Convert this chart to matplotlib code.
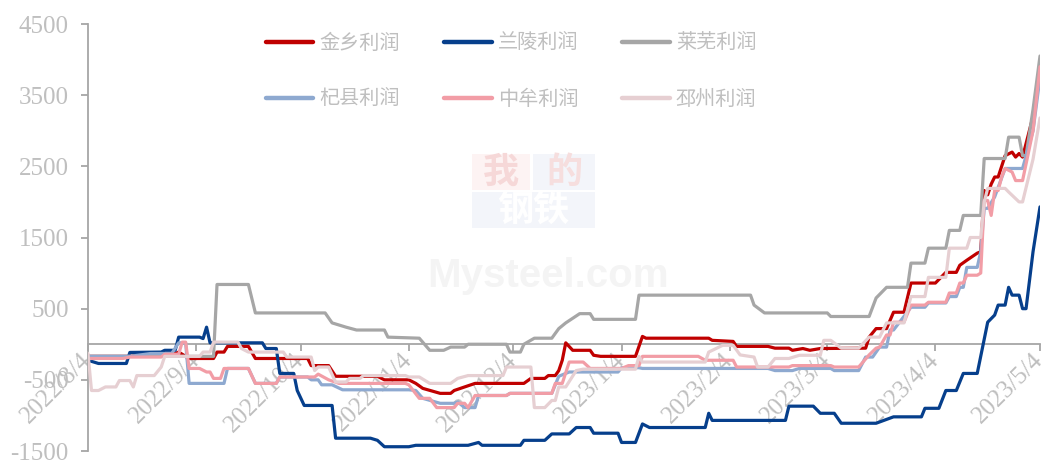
import numpy as np
import pandas as pd
import matplotlib
matplotlib.use('Agg')
import matplotlib.pyplot as plt
from matplotlib.patches import Rectangle

plt.rcParams['font.family'] = ['Liberation Serif', 'Noto Sans CJK SC', 'DejaVu Sans']

# ---- data (date, profit) ----
jinxiang_dates = ['2022/8/4', '2022/8/16', '2022/8/22', '2022/8/29', '2022/8/30', '2022/9/2', '2022/9/9', '2022/9/10',
                  '2022/9/12', '2022/9/13', '2022/9/19', '2022/9/21', '2022/10/6', '2022/10/7', '2022/10/12', '2022/10/14',
                  '2022/10/26', '2022/10/28', '2022/11/4', '2022/11/6', '2022/11/8', '2022/11/13', '2022/11/16', '2022/11/17',
                  '2022/11/20', '2022/11/23', '2022/12/7', '2022/12/9', '2022/12/13', '2022/12/14', '2022/12/16', '2022/12/17',
                  '2022/12/18', '2022/12/19', '2022/12/21', '2022/12/26', '2022/12/27', '2022/12/29', '2023/1/8', '2023/1/10',
                  '2023/1/11', '2023/1/29', '2023/1/30', '2023/2/5', '2023/2/6', '2023/2/15', '2023/2/17', '2023/2/21',
                  '2023/2/22', '2023/2/25', '2023/2/27', '2023/3/2', '2023/3/15', '2023/3/16', '2023/3/18', '2023/3/21',
                  '2023/3/23', '2023/3/26', '2023/3/28', '2023/4/4', '2023/4/7', '2023/4/10', '2023/4/11', '2023/4/13',
                  '2023/4/16', '2023/4/17', '2023/4/18', '2023/4/19', '2023/4/20', '2023/4/21', '2023/4/22', '2023/4/24',
                  '2023/4/26', '2023/4/27', '2023/4/28', '2023/4/29', '2023/5/2', '2023/5/4']
jinxiang_vals = [-170, -170, -130, -130, -110, -200, -200, -110,
                 -110, -30, -30, -200, -200, -300, -300, -450,
                 -450, -500, -500, -550, -620, -690, -690, -650,
                 -600, -550, -550, -480, -480, -440, -440, -370,
                 -225, 20, -85, -85, -155, -170, -170, 110,
                 85, 85, 55, 40, -30, -30, -55, -55,
                 -85, -60, -85, -60, -55, 100, 220, 220,
                 450, 450, 860, 860, 1010, 1010, 1110, 1180,
                 1280, 1300, 2160, 2100, 2250, 2350, 2350, 2650,
                 2700, 2630, 2680, 2630, 3200, 3950]

lanling_dates = ['2022/8/4', '2022/8/7', '2022/8/15', '2022/8/16', '2022/8/25', '2022/8/26', '2022/8/29', '2022/8/30',
                 '2022/9/5', '2022/9/6', '2022/9/7', '2022/9/8', '2022/9/23', '2022/9/24', '2022/9/27', '2022/9/28',
                 '2022/10/2', '2022/10/3', '2022/10/5', '2022/10/13', '2022/10/14', '2022/10/24', '2022/10/26', '2022/10/28',
                 '2022/11/4', '2022/11/6', '2022/11/21', '2022/11/24', '2022/11/25', '2022/12/6', '2022/12/7', '2022/12/13',
                 '2022/12/15', '2022/12/20', '2022/12/22', '2022/12/26', '2022/12/27', '2023/1/3', '2023/1/4', '2023/1/8',
                 '2023/1/10', '2023/1/12', '2023/1/28', '2023/1/29', '2023/1/30', '2023/2/20', '2023/2/21', '2023/2/28',
                 '2023/3/2', '2023/3/6', '2023/3/8', '2023/3/18', '2023/3/23', '2023/3/31', '2023/4/1', '2023/4/5',
                 '2023/4/7', '2023/4/10', '2023/4/12', '2023/4/16', '2023/4/19', '2023/4/21', '2023/4/22', '2023/4/24',
                 '2023/4/25', '2023/4/26', '2023/4/28', '2023/4/29', '2023/4/30', '2023/5/2', '2023/5/4']
lanling_vals = [-225, -270, -270, -115, -110, -85, -85, 100,
                100, 80, 240, 20, 20, -60, -60, -410,
                -410, -650, -860, -860, -1320, -1320, -1350, -1440,
                -1440, -1420, -1420, -1380, -1420, -1420, -1350, -1350,
                -1260, -1260, -1170, -1170, -1250, -1250, -1380, -1380,
                -1120, -1170, -1170, -970, -1070, -1070, -870, -870,
                -970, -970, -1110, -1110, -1020, -1020, -900, -900,
                -650, -650, -410, -410, 310, 410, 550, 550,
                800, 690, 690, 500, 500, 1300, 1930]

laiwu_dates = ['2022/8/4', '2022/9/9', '2022/9/10', '2022/9/19', '2022/9/21', '2022/10/11', '2022/10/13', '2022/10/17',
               '2022/10/20', '2022/10/28', '2022/10/29', '2022/11/7', '2022/11/10', '2022/11/14', '2022/11/16', '2022/11/20',
               '2022/11/21', '2022/12/2', '2022/12/3', '2022/12/6', '2022/12/7', '2022/12/10', '2022/12/15', '2022/12/17',
               '2022/12/19', '2022/12/23', '2022/12/26', '2022/12/27', '2023/1/8', '2023/1/9', '2023/2/10', '2023/2/11',
               '2023/2/14', '2023/3/4', '2023/3/5', '2023/3/16', '2023/3/18', '2023/3/21', '2023/3/27', '2023/3/28',
               '2023/4/1', '2023/4/2', '2023/4/7', '2023/4/8', '2023/4/11', '2023/4/12', '2023/4/17', '2023/4/18',
               '2023/4/24', '2023/4/25', '2023/4/28', '2023/4/29', '2023/4/30', '2023/5/2', '2023/5/4']
laiwu_vals = [-170, -170, 840, 840, 440, 440, 300, 240,
              200, 200, 100, 85, -85, -85, -40, -40,
              0, 0, -110, -110, 0, 85, 85, 220,
              300, 430, 430, 350, 350, 690, 690, 550,
              440, 440, 390, 390, 650, 800, 800, 1140,
              1140, 1350, 1350, 1600, 1600, 1810, 1810, 2610,
              2610, 2910, 2910, 2650, 2650, 3300, 4050]

qixian_dates = ['2022/8/4', '2022/8/16', '2022/8/22', '2022/8/28', '2022/8/30', '2022/9/1', '2022/9/2', '2022/9/12',
                '2022/9/13', '2022/9/19', '2022/9/21', '2022/9/27', '2022/9/28', '2022/10/6', '2022/10/7', '2022/10/9',
                '2022/10/10', '2022/10/13', '2022/10/16', '2022/11/4', '2022/11/6', '2022/11/8', '2022/11/13', '2022/11/17',
                '2022/11/18', '2022/11/20', '2022/11/23', '2022/11/24', '2022/12/2', '2022/12/3', '2022/12/15', '2022/12/17',
                '2022/12/20', '2023/1/3', '2023/1/4', '2023/1/9', '2023/1/10', '2023/2/15', '2023/2/17', '2023/2/22',
                '2023/2/24', '2023/3/5', '2023/3/6', '2023/3/13', '2023/3/15', '2023/3/17', '2023/3/19', '2023/3/21',
                '2023/3/22', '2023/3/23', '2023/3/28', '2023/4/1', '2023/4/2', '2023/4/7', '2023/4/8', '2023/4/10',
                '2023/4/11', '2023/4/12', '2023/4/13', '2023/4/16', '2023/4/17', '2023/4/18', '2023/4/19', '2023/4/21',
                '2023/4/24', '2023/4/29', '2023/5/2', '2023/5/4']
qixian_vals = [-170, -170, -130, -130, 20, 20, -550, -550,
               -340, -340, -550, -550, -460, -460, -500, -500,
               -570, -570, -640, -640, -650, -760, -830, -830,
               -810, -890, -890, -720, -720, -690, -690, -450,
               -390, -390, -330, -330, -340, -340, -370, -370,
               -340, -340, -370, -370, -180, -180, -40, -40,
               200, 200, 520, 520, 580, 580, 670, 670,
               800, 800, 1080, 1080, 1300, 1910, 1910, 2070,
               2470, 2470, 3000, 3750]

zhongmu_dates = ['2022/8/4', '2022/8/14', '2022/8/16', '2022/8/25', '2022/8/26', '2022/8/30', '2022/8/31', '2022/9/1',
                 '2022/9/2', '2022/9/5', '2022/9/7', '2022/9/8', '2022/9/9', '2022/9/11', '2022/9/12', '2022/9/19',
                 '2022/9/21', '2022/9/27', '2022/9/28', '2022/10/8', '2022/10/9', '2022/10/12', '2022/10/15', '2022/11/3',
                 '2022/11/4', '2022/11/7', '2022/11/10', '2022/11/12', '2022/11/17', '2022/11/18', '2022/11/20', '2022/11/21',
                 '2022/11/23', '2022/12/2', '2022/12/3', '2022/12/15', '2022/12/16', '2022/12/18', '2022/12/20', '2022/12/24',
                 '2022/12/26', '2023/1/4', '2023/1/6', '2023/1/9', '2023/1/10', '2023/1/26', '2023/1/28', '2023/2/5',
                 '2023/2/6', '2023/2/21', '2023/2/22', '2023/3/5', '2023/3/6', '2023/3/13', '2023/3/16', '2023/3/18',
                 '2023/3/19', '2023/3/21', '2023/3/22', '2023/3/23', '2023/3/26', '2023/3/28', '2023/4/1', '2023/4/2',
                 '2023/4/7', '2023/4/8', '2023/4/10', '2023/4/11', '2023/4/12', '2023/4/13', '2023/4/16', '2023/4/17',
                 '2023/4/18', '2023/4/19', '2023/4/20', '2023/4/21', '2023/4/22', '2023/4/23', '2023/4/24', '2023/4/26',
                 '2023/4/27', '2023/4/29', '2023/5/2', '2023/5/4']
zhongmu_vals = [-200, -200, -180, -180, -140, -140, 30, 30,
                -340, -340, -390, -390, -480, -480, -340, -340,
                -550, -550, -460, -460, -420, -500, -550, -550,
                -570, -760, -760, -890, -890, -830, -830, -890,
                -720, -720, -690, -690, -550, -550, -250, -250,
                -340, -340, -300, -300, -170, -170, -225, -225,
                -320, -320, -300, -300, -320, -320, -150, -55,
                -40, 130, 130, 310, 310, 550, 550, 590,
                590, 720, 720, 860, 860, 970, 970, 1000,
                2020, 2020, 1810, 2160, 2160, 2350, 2470, 2420,
                2300, 2300, 3000, 3900]

pizhou_dates = ['2022/8/4', '2022/8/5', '2022/8/7', '2022/8/9', '2022/8/12', '2022/8/13', '2022/8/16', '2022/8/17',
                '2022/8/18', '2022/8/23', '2022/8/25', '2022/8/26', '2022/9/5', '2022/9/6', '2022/9/8', '2022/9/9',
                '2022/9/16', '2022/9/17', '2022/9/19', '2022/9/29', '2022/9/30', '2022/10/7', '2022/10/8', '2022/10/9',
                '2022/10/12', '2022/10/14', '2022/10/17', '2022/10/18', '2022/10/21', '2022/10/22', '2022/11/3', '2022/11/4',
                '2022/11/7', '2022/11/10', '2022/11/16', '2022/11/18', '2022/11/21', '2022/12/1', '2022/12/2', '2022/12/9',
                '2022/12/10', '2022/12/13', '2022/12/15', '2022/12/16', '2022/12/17', '2022/12/19', '2022/12/22', '2022/12/24',
                '2023/1/8', '2023/1/9', '2023/1/10', '2023/1/28', '2023/1/29', '2023/2/2', '2023/2/5', '2023/2/7',
                '2023/2/11', '2023/2/12', '2023/2/15', '2023/2/17', '2023/2/21', '2023/2/24', '2023/3/2', '2023/3/3',
                '2023/3/5', '2023/3/8', '2023/3/13', '2023/3/16', '2023/3/19', '2023/3/21', '2023/3/26', '2023/3/28',
                '2023/4/1', '2023/4/2', '2023/4/7', '2023/4/8', '2023/4/13', '2023/4/14', '2023/4/17', '2023/4/18',
                '2023/4/19', '2023/4/24', '2023/4/25', '2023/4/28', '2023/4/29', '2023/5/2', '2023/5/4']
pizhou_vals = [-130, -650, -650, -600, -600, -510, -510, -600,
               -440, -440, -320, -170, -170, -110, -110, 30,
               30, -60, -110, -110, -180, -180, -370, -320,
               -320, -530, -530, -480, -480, -440, -440, -460,
               -460, -550, -550, -480, -440, -440, -320, -320,
               -890, -890, -790, -790, -600, -600, -370, -350,
               -350, -170, -250, -250, -110, -15, -15, -150,
               -180, -320, -320, -200, -200, -155, -155, 55,
               55, -55, -55, 100, 100, 300, 300, 670,
               670, 940, 940, 1350, 1350, 1500, 1500, 2000,
               2190, 2190, 2140, 2000, 2000, 2600, 3180]

series_names = ['金乡利润', '兰陵利润', '莱芜利润', '杞县利润', '中牟利润', '邳州利润']
series_dates = [jinxiang_dates, lanling_dates, laiwu_dates, qixian_dates, zhongmu_dates, pizhou_dates]
series_vals = [jinxiang_vals, lanling_vals, laiwu_vals, qixian_vals, zhongmu_vals, pizhou_vals]
series_colors = ['#C00000', '#063F8C', '#A6A6A6', '#8EA9D0', '#F29DA6', '#E6CFD2']

tick_dates = ['2022/8/4', '2022/9/4', '2022/10/4', '2022/11/4', '2022/12/4', '2023/1/4',
              '2023/2/4', '2023/3/4', '2023/4/4', '2023/5/4']
y_ticks = [-1500, -500, 500, 1500, 2500, 3500, 4500]

axis_gray = '#A6A6A6'
text_gray = '#BFBFBF'

fig = plt.figure(figsize=(10.41, 4.61), dpi=100)
ax = fig.add_axes([88 / 1041, 1 - 451 / 461, 952 / 1041, 427 / 461])

# faint watermark
fig.patches.append(Rectangle((472 / 1041, 1 - 190 / 461), 58 / 1041, 36 / 461, transform=fig.transFigure,
                             facecolor='#FDF3F3', edgecolor='none', zorder=0))
fig.patches.append(Rectangle((533 / 1041, 1 - 190 / 461), 62 / 1041, 36 / 461, transform=fig.transFigure,
                             facecolor='#F3F5FA', edgecolor='none', zorder=0))
fig.patches.append(Rectangle((472 / 1041, 1 - 228 / 461), 123 / 1041, 36 / 461, transform=fig.transFigure,
                             facecolor='#F3F5FA', edgecolor='none', zorder=0))
fig.text(501 / 1041, 1 - 172 / 461, '我', color='#F6D8D8', fontsize=26, ha='center', va='center',
         family=['Noto Sans CJK SC'], fontweight='bold', zorder=0)
fig.text(564 / 1041, 1 - 172 / 461, '的', color='#F6DEDE', fontsize=26, ha='center', va='center',
         family=['Noto Sans CJK SC'], fontweight='bold', zorder=0)
fig.text(533 / 1041, 1 - 210 / 461, '钢铁', color='#FFFFFF', fontsize=26, ha='center', va='center',
         family=['Noto Sans CJK SC'], fontweight='bold', zorder=0)
fig.text(548 / 1041, 1 - 276 / 461, 'Mysteel.com', color='#F4F4F4', fontsize=29, ha='center', va='center',
         family=['Liberation Sans'], fontweight='bold', zorder=0)
ax.set_facecolor('none')

for name, d, v, c in zip(series_names, series_dates, series_vals, series_colors):
    ax.plot(pd.to_datetime(d, format='%Y/%m/%d'), v, color=c, lw=2.3, label=name,
            solid_joinstyle='round', solid_capstyle='round', zorder=3)

ax.set_xlim(pd.Timestamp('2022-08-04'), pd.Timestamp('2023-05-04'))
ax.set_ylim(-1500, 4500)
ax.set_yticks(y_ticks)
ax.set_yticklabels([str(t) for t in y_ticks])
ax.set_xticks(pd.to_datetime(tick_dates, format='%Y/%m/%d'))
ax.set_xticklabels(tick_dates)

for s in ['top', 'right']:
    ax.spines[s].set_visible(False)
ax.spines['bottom'].set_position(('data', 0))
ax.spines['bottom'].set_color(axis_gray)
ax.spines['left'].set_color(axis_gray)
ax.spines['bottom'].set_linewidth(1.3)
ax.spines['left'].set_linewidth(1.3)
ax.spines['bottom'].set_zorder(2)

ax.tick_params(axis='y', colors=axis_gray, labelcolor=text_gray, labelsize=18, length=5, width=1.3, pad=9)
ax.tick_params(axis='x', colors=axis_gray, labelcolor=text_gray, labelsize=18, length=5, width=1.3, pad=4)
for lbl in ax.get_xticklabels():
    lbl.set_rotation(45)
    lbl.set_ha('right')
    lbl.set_va('center')
    lbl.set_rotation_mode('anchor')

# legend filled row by row (matplotlib fills by column)
handles, labels = ax.get_legend_handles_labels()
order = [0, 3, 1, 4, 2, 5]
leg = ax.legend([handles[i] for i in order], [labels[i] for i in order],
                loc='upper left', bbox_to_anchor=(266 / 1041, 1 - 33 / 461), bbox_transform=fig.transFigure,
                ncol=3, frameon=False, handlelength=2.35, handletextpad=0.3,
                columnspacing=2.2, labelspacing=1.75, borderpad=0, borderaxespad=0,
                prop={'family': ['Noto Sans CJK SC'], 'size': 14.5})
for t in leg.get_texts():
    t.set_color(text_gray)
for h in leg.get_lines():
    h.set_linewidth(3.2)

fig.savefig('out.png', dpi=100)
